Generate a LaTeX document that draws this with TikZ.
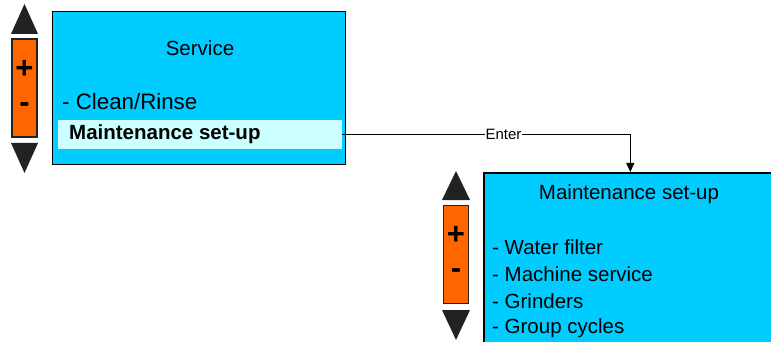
\documentclass[tikz,border=0pt]{standalone}
\usepackage{fontspec}
\setmainfont{Liberation Sans}
\usetikzlibrary{positioning}
\usetikzlibrary{arrows.meta}
\definecolor{screen}{RGB}{0,204,255}
\definecolor{selbar}{RGB}{204,255,255}
\definecolor{keypad}{RGB}{255,102,0}
\definecolor{arrowkey}{RGB}{34,34,34}
\newcommand{\menufont}{\fontsize{20.5}{24}\selectfont}

\begin{document}
\begin{tikzpicture}[
    x=1pt, y=-1pt,
    screenbox/.style={rectangle, draw=black, line width=1.6pt, fill=screen, inner sep=0pt},
    selbox/.style={rectangle, fill=selbar, inner sep=0pt},
    keybox/.style={rectangle, draw=arrowkey, line width=1.4pt, fill=keypad, inner sep=0pt,
                   minimum width=25pt, minimum height=98pt},
    keysign/.style={font=\fontsize{31}{34}\selectfont\bfseries, inner sep=0pt},
    item/.style={anchor=west, font=\menufont, inner sep=0pt},
    title/.style={font=\menufont, inner sep=0pt},
    arrowkey/.style={fill=arrowkey},
    >={Triangle[length=9pt, width=8pt]}
]
    \useasboundingbox (0,0) rectangle (771,342);

    % first screen
    \node[screenbox, minimum width=293pt, minimum height=153pt] (service) at (199,88) {};
    \node[selbox, minimum width=284pt, minimum height=29pt] (sel) at (200,134.5) {};
    \node[title] (servicetitle) at (200,48) {Service};
    \node[item, font=\fontsize{22.3}{26}\selectfont] (clean) at (62,102) {- Clean/Rinse};
    \node[item, font=\menufont\bfseries] (seltext) at (69,134) {Maintenance set-up};

    % keys of the first screen
    \fill[arrowkey] (11,34) -- (24.5,4) -- (38,34) -- cycle;
    \node[keybox] (keys1) at (24.5,88) {};
    \fill[arrowkey] (11,143) -- (24.5,173) -- (38,143) -- cycle;
    \node[keysign] (plus1) at (24.5,69) {+};
    \node[keysign] (minus1) at (24.5,108) {-};

    % second screen
    \node[screenbox, anchor=north west, minimum width=293pt, minimum height=200pt] (maint) at (483,172) {};
    \node[title] (mainttitle) at (629,194) {Maintenance set-up};
    \node[item] (filter) at (492,247) {- Water filter};
    \node[item] (machine) at (492,274) {- Machine service};
    \node[item] (grinders) at (492,301) {- Grinders};
    \node[item] (cycles) at (492,328) {- Group cycles};

    % keys of the second screen
    \fill[arrowkey] (442,200) -- (456,171) -- (470,200) -- cycle;
    \node[keybox] (keys2) at (456,254.5) {};
    \fill[arrowkey] (442,310) -- (456,340) -- (470,310) -- cycle;
    \node[keysign] (plus2) at (456,235) {+};
    \node[keysign] (minus2) at (456,274) {-};

    % enter
    \draw[->, line width=0.8pt] (sel.east) -| node[pos=0.28, fill=white, inner sep=1pt, font=\fontsize{15}{17}\selectfont] {Enter} (maint.north);
\end{tikzpicture}
\end{document}
